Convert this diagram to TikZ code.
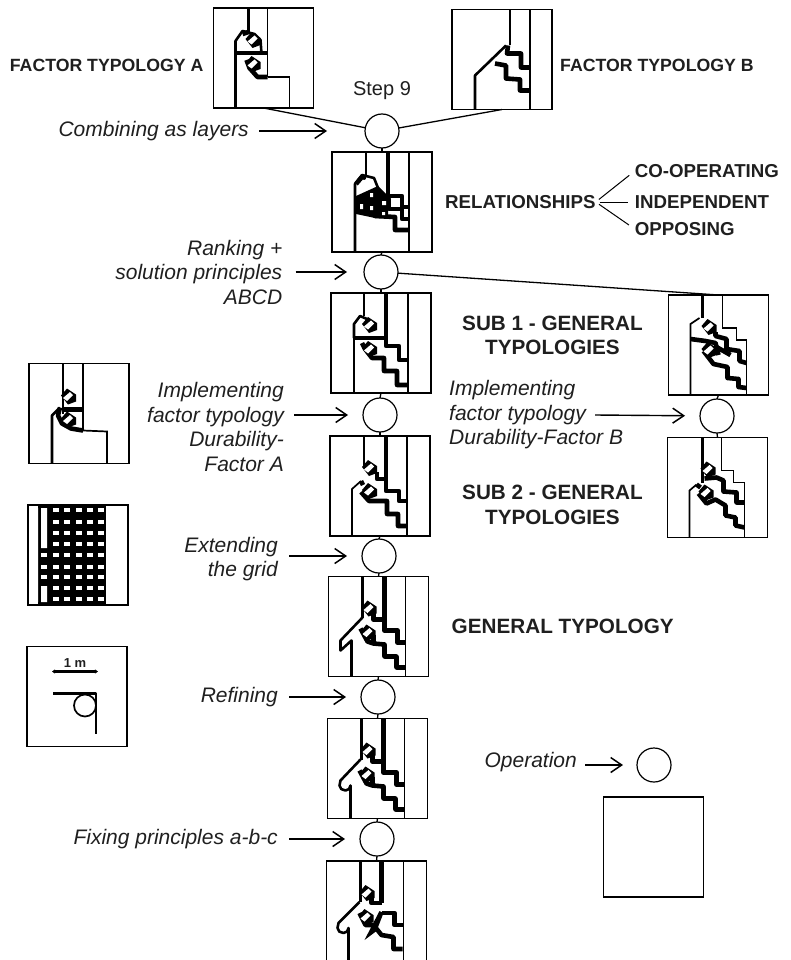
\documentclass[tikz,border=0pt]{standalone}
\usepackage{fontspec}
\setmainfont{Liberation Sans}
\usetikzlibrary{arrows.meta,positioning}
\newcommand{\gem}[2]{\fill (#1-7,#2-1)--(#1-1,#2-8)--(#1+8,#2-2)--(#1+8,#2+5)--(#1,#2+8)--cycle;
  \fill[white] (#1-5,#2+1.5)--(#1+2,#2-4.5)--(#1+5,#2-1.5)--(#1-1,#2+4.5)--cycle;}
\tikzset{
  wl/.style={line width=1.7pt},
  md/.style={line width=2.6pt,line join=round},
  tk/.style={line width=4.6pt,line join=round},
  % the top part shared by the later plans
  topwalls/.pic={
    \draw[md] (34,0)--(34,41);
    \draw[tk] (56,0)--(56,54)--(69,54)--(69,66)--(77,66);
    \draw[wl] (77,0)--(77,100);
    \draw[tk] (45,36)--(45,43)--(56,43);
    \gem{40}{32}},
  lowstair/.pic={
    \draw[tk] (32,52)--(39,65)--(45,67)--(56,68)--(56,80)--(68,80)--(68,91)--(77,91);
    \draw[tk] (45,58)--(45,66);
    \gem{39}{56}},
  facA/.pic={
    \draw[md] (35,0)--(35,26);
    \draw[wl] (54,0)--(54,69);
    \draw[md] (22,100)--(22,33)--(29,23)--(41,26)--(47,32)--(48,46);
    \draw[tk] (22,45)--(54,45);
    \draw[tk] (29,26)--(35,24);
    \draw[tk] (33,52)--(36,60)--(44,69)--(54,69);
    \draw[wl] (54,69)--(76,69)--(76,100);
    \gem{39}{32}\gem{39}{56}},
  facB/.pic={
    \draw[md] (58,0)--(58,36);
    \draw[wl] (78,0)--(78,100);
    \draw[md] (23,100)--(23,66)--(54,36);
    \draw[tk] (56,36)--(55,44)--(69,44)--(69,58)--(78,58);
    \draw[tk] (43,54)--(54,56)--(54,69)--(68,70)--(68,81)--(78,81);},
  combo/.pic={
    \draw[md] (34,0)--(34,24);
    \draw[tk] (56,0)--(56,44)--(70,44)--(70,55)--(77,55);
    \draw[wl] (77,0)--(77,100);
    \draw[md] (23,100)--(23,32)--(30,23)--(42,26)--(46,36);
    \draw[tk] (24,47)--(57,47)--(57,57)--(70,57)--(70,67)--(77,67);
    \draw[tk] (30,50)--(43,64)--(63,65)--(63,78)--(77,78);
    \fill (24,44)--(46,34)--(56,44)--(56,66)--(43,66)--(24,62)--cycle;
    \draw[tk] (24,32)--(30,25)--(34,26);
    \fill[white] (29,30)--(36,26)--(39,30)--(33,38)--cycle (38,41) rectangle (41,45) (28,52) rectangle (31,57)
      (38,54) rectangle (41,58) (50,49) rectangle (54,53) (50,60) rectangle (53,63)
      (60,50) rectangle (66,54) (72,59) rectangle (75,64) (72,70) rectangle (75,75);},
  subone/.pic={
    \draw[md] (33,0)--(33,23);
    \draw[tk] (55,0)--(55,53)--(68,53)--(68,67)--(77,67);
    \draw[wl] (77,0)--(77,100);
    \draw[wl] (23,100)--(23,45);
    \draw[md] (23,45)--(23,31)--(29,23)--(36,26);
    \draw[tk] (22,45)--(55,45);
    \draw[tk] (31,50)--(34,56)--(41,65)--(53,65)--(53,78)--(66,78)--(66,92)--(77,92);
    \gem{38}{32}\gem{38}{56}},
  subtwo/.pic={
    \draw[md] (34,0)--(34,32);
    \draw[tk] (56,0)--(56,55)--(69,55)--(69,65)--(77,65);
    \draw[wl] (77,0)--(77,100);
    \draw[tk] (47,36)--(47,43)--(56,43);
    \draw[wl] (22,100)--(22,53)--(31,45);
    \draw[tk] (31,45)--(33,49);
    \draw[tk] (31,56)--(39,65)--(46,65)--(57,65)--(57,78)--(68,78)--(68,90)--(77,90);
    \gem{39}{32}\gem{39}{55}},
  gener/.pic={
    \pic {topwalls};
    \draw[md] (23,100)--(23,64)--(12,74)--(12,64)--(34,41);
    \pic {lowstair};},
  refin/.pic={
    \pic {topwalls};
    \draw[md] (23,100)--(23,67) to[out=270,in=0] (18,72) to[out=180,in=270] (12,67)--(13,62)--(33,41);
    \pic {lowstair};},
  fixd/.pic={
    \draw[md] (34,0)--(34,41);
    \draw[tk] (55,0)--(55,42);
    \draw[wl] (77,0)--(77,100);
    \draw[tk] (45,36)--(45,42)--(55,42);
    \draw[md] (22,100)--(22,67) to[out=270,in=0] (17,72) to[out=180,in=270] (11,67)--(12,62)--(33,41);
    \draw[tk] (33,52)--(39,64)--(47,64)--(55,74)--(67,76)--(67,88)--(76,88);
    \draw[tk] (55,52)--(68,52)--(68,64)--(76,64);
    \gem{40}{32}\gem{39}{56}
    \fill (38,79)--(53,50)--(57,52)--(50,70)--cycle;},
  rone/.pic={
    \draw[md] (34,0)--(34,23);
    \draw[wl] (54,0)--(54,33)--(68,33)--(68,45)--(78,45)--(78,100);
    \draw[wl] (22,100)--(22,29)--(31,23);
    \draw[tk] (47,37)--(47,41)--(58,44)--(58,54)--(71,56)--(71,66)--(78,68);
    \draw[tk] (22,44)--(37,46)--(47,48)--(50,60);
    \draw[tk] (35,56)--(45,69)--(59,72)--(59,83)--(70,84)--(70,92)--(78,93);
    \draw[tk] (48,52)--(62,60);
    \gem{40}{32}\gem{40}{55}},
  rtwo/.pic={
    \draw[md] (35,0)--(35,45);
    \draw[wl] (54,0)--(54,33)--(66,33)--(66,45)--(77,45)--(77,100);
    \draw[tk] (37,41)--(49,40)--(56,43)--(56,54)--(69,55)--(69,65)--(77,65);
    \draw[wl] (22,100)--(22,53)--(29,47);
    \draw[tk] (29,47)--(33,50);
    \draw[tk] (31,56)--(39,66)--(48,62)--(58,68)--(58,78)--(68,80)--(68,88)--(77,90);
    \gem{40}{32}\gem{38}{55}},
  lone/.pic={
    \draw[md] (34,0)--(34,50);
    \draw[wl] (54,0)--(54,67)--(78,68)--(78,100);
    \draw[md] (23,100)--(23,52)--(31,44);
    \draw[tk] (31,44)--(29,52)--(33,60)--(42,65)--(48,66)--(54,67);
    \draw[tk] (34,46)--(54,46);
    \gem{39}{33}\gem{39}{56}},
  gridp/.pic={
    \fill (10,0) rectangle (78,100);
    \fill[white] (2,3) rectangle (10,97) (13,3) rectangle (19,43) (13,81) rectangle (19,97);
    \foreach \gx in {28,39,51,62,73} \foreach \gy in {5,17,28,39,50,62,72,83,94}
      {\fill[white] (\gx-2.8,\gy-2) rectangle (\gx+2.8,\gy+2);}
    \foreach \gy in {50,62,72} {\fill[white] (13,\gy-2) rectangle (19,\gy+2);}},
  scalep/.pic={
    \node[font=\bfseries\fontsize{13}{13}\selectfont,inner sep=0] (lblScale) at (48,17) {1 m};
    \draw[md,{Stealth[length=3pt,width=4pt]}-{Stealth[length=3pt,width=4pt]}] (25,25)--(71,25);
    \draw[md] (26,47)--(69,47)--(69,87);
    \draw[wl] (58,59) circle (11);},
}
\begin{document}
\begin{tikzpicture}[x=1pt,y=-1pt,
  plan/.style={draw,line width=1.4pt,minimum size=100pt,inner sep=0,outer sep=0},
  op/.style={draw,circle,line width=1.2pt,minimum size=34pt,inner sep=0,outer sep=0},
  act/.style={font=\itshape\fontsize{21}{24.5}\selectfont,align=right,inner sep=0},
  typ/.style={font=\bfseries\fontsize{#1}{24.5}\selectfont,align=center,inner sep=0},
  typ/.default=18.7,
  link/.style={line width=1.3pt},
  feed/.style={line width=1.4pt,->,shorten <=10pt,shorten >=15pt},
  >={Straight Barb[length=11pt,width=15pt,line width=1.5pt]},
  every node/.append style={text=black!88}]
\useasboundingbox (0,0) rectangle (790,960);
% plans down the main chain
\node[plan] (boxA) at (263.5,58) {};
\node[plan] (boxB) at (502,59.5) {};
\node[op] (c1) at (382,131) {};
\node[plan] (boxC) at (382,202) {};
\node[op] (c2) at (381,272) {};
\node[plan] (boxS1) at (381,343) {};
\node[op] (c3) at (380,415) {};
\node[plan] (boxS2) at (380,486) {};
\node[op] (c4) at (379,556) {};
\node[plan] (boxG) at (378.5,626.5) {};
\node[op] (c5) at (378,697) {};
\node[plan] (boxR) at (377.5,768.5) {};
\node[op] (c6) at (377,839) {};
\node[plan] (boxF) at (376.5,911) {};
% right branch
\node[plan] (boxR1) at (718.5,345) {};
\node[op] (c7) at (717,416) {};
\node[plan] (boxR2) at (717.5,487.5) {};
% left column and key
\node[plan] (boxL1) at (79,413.5) {};
\node[plan] (boxL2) at (78,555) {};
\node[plan] (boxL3) at (77,696.5) {};
\node[op] (cKey) at (654,765) {};
\node[plan] (boxKey) at (653.5,847) {};
% plan contents
\pic at (boxA.north west) {facA};
\pic at (boxB.north west) {facB};
\pic at (boxC.north west) {combo};
\pic at (boxS1.north west) {subone};
\pic at (boxS2.north west) {subtwo};
\pic at (boxG.north west) {gener};
\pic at (boxR.north west) {refin};
\pic at (boxF.north west) {fixd};
\pic at (boxR1.north west) {rone};
\pic at (boxR2.north west) {rtwo};
\pic at (boxL1.north west) {lone};
\pic at (boxL2.north west) {gridp};
\pic at (boxL3.north west) {scalep};
% labels
\node[typ=17.7,left=10pt of boxA,yshift=-7pt] (lblA) {FACTOR TYPOLOGY A};
\node[typ=17.7,right=8pt of boxB,yshift=-5.5pt] (lblB) {FACTOR TYPOLOGY B};
\node[above=14pt of c1,inner sep=0,font=\fontsize{20}{24}\selectfont] (lblStep) {Step 9};
\node[act,left=116pt of c1] (lblLayers) {Combining as layers};
\node[act,left=81.5pt of c2] (lblRank) {Ranking +\\solution principles\\ABCD};
\node[act,left=79pt of c3,yshift=-12pt] (lblDurA) {Implementing\\factor typology\\Durability-\\Factor A};
\node[act,left=84pt of c4,yshift=-3pt] (lblGrid) {Extending\\the grid};
\node[act,left=83pt of c5] (lblRefine) {Refining};
\node[act,left=82pt of c6] (lblFix) {Fixing principles a-b-c};
\node[act,left=60pt of cKey,yshift=3pt] (lblOp) {Operation};
\node[act,align=left,anchor=west] (lblDurB) at (449,415) {Implementing\\factor typology\\Durability-Factor B};
\coordinate (fromB) at (595,415);
\node[typ,right=13pt of boxC] (lblRel) {RELATIONSHIPS};
\node[typ,right=39pt of lblRel] (lblInd) {INDEPENDENT};
\node[typ,anchor=west] (lblCo) at ([yshift=31pt]lblInd.west) {CO-OPERATING};
\node[typ,anchor=west] (lblOpp) at ([yshift=-27pt]lblInd.west) {OPPOSING};
\node[typ=20.7,right=31pt of boxS1,yshift=7.5pt] (lblS1) {SUB 1 - GENERAL\\TYPOLOGIES};
\node[typ=20.7,right=32pt of boxS2,yshift=-19pt] (lblS2) {SUB 2 - GENERAL\\TYPOLOGIES};
\node[typ=20.7,right=23pt of boxG] (lblG) {GENERAL TYPOLOGY};
% connectors
\draw[link] (boxA.south) -- (c1);
\draw[link] (boxB.south) -- (c1);
\draw[link] (c2) -- (boxR1.north);
\foreach \a/\b in {c1/boxC,boxC/c2,c2/boxS1,boxS1/c3,c3/boxS2,boxS2/c4,c4/boxG,boxG/c5,c5/boxR,boxR/c6,c6/boxF,boxR1/c7,c7/boxR2}
  \draw[link] (\a.south) -- (\b.north);
\draw[feed,shorten >=38pt] (lblLayers) -- (c1);
\draw[feed,shorten <=13pt,shorten >=17pt] (lblRank) -- (c2);
\draw[feed] (lblDurA.east |- c3) -- (c3);
\draw[feed,shorten <=11pt] (lblGrid.east |- c4) -- (c4);
\draw[feed,shorten <=11pt] (lblRefine) -- (c5);
\draw[feed,shorten <=11pt] (lblFix) -- (c6);
\draw[feed,shorten <=8pt,shorten >=14pt] (lblOp.east |- cKey) -- (cKey);
\draw[feed,shorten <=0pt,shorten >=15pt] (fromB) -- (c7);
\foreach \t in {lblCo,lblInd,lblOpp}
  \draw[line width=1pt,shorten <=4pt,shorten >=7pt] (lblRel.east) -- (\t.west);
\end{tikzpicture}
\end{document}
